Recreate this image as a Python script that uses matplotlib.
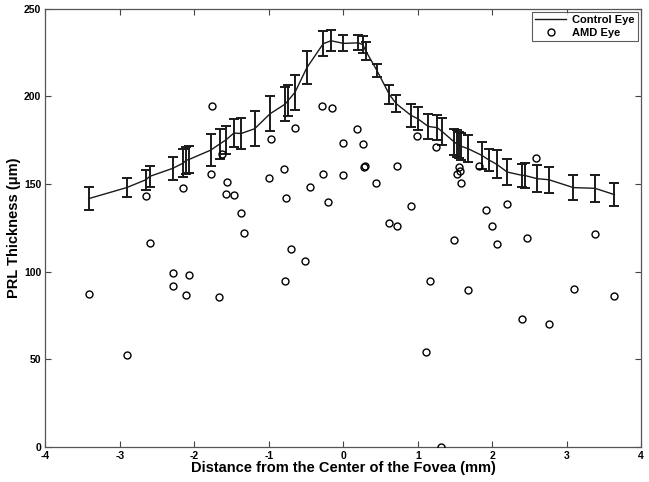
import matplotlib
matplotlib.use("Agg")
import matplotlib.pyplot as plt
import numpy as np

# Control eye: mean thickness and error at each distance
controlX = [-3.42, -2.91, -2.65, -2.60, -2.29, -2.15, -2.11, -2.07, -1.78, -1.66,
            -1.58, -1.47, -1.37, -1.19, -0.985, -0.78, -0.74, -0.65, -0.49, -0.27,
            -0.165, 0.0, 0.20, 0.26, 0.30, 0.45, 0.62, 0.71, 0.91, 1.00,
            1.14, 1.26, 1.33, 1.49, 1.52, 1.55, 1.58, 1.67, 1.86, 1.95,
            2.06, 2.20, 2.40, 2.44, 2.60, 2.76, 3.09, 3.38, 3.64]
controlMean = [141.6, 147.9, 152.4, 154.3, 158.9, 161.9, 163.5, 164.0, 169.3, 172.8,
               175.0, 179.0, 178.8, 181.5, 190.0, 195.6, 197.7, 202.2, 216.3, 230.0,
               231.7, 230.2, 230.5, 229.5, 226.0, 214.8, 200.9, 195.8, 189.1, 187.2,
               182.8, 182.1, 179.8, 173.9, 173.0, 172.3, 171.5, 170.2, 166.3, 163.8,
               161.2, 156.8, 154.9, 154.8, 153.0, 152.4, 147.9, 147.5, 143.9]
controlErr = [6.5, 5.2, 5.7, 6.0, 6.5, 8.0, 7.6, 7.6, 9.3, 8.3,
              8.2, 7.9, 8.7, 10.0, 10.0, 9.8, 8.9, 10.0, 9.4, 7.1,
              5.9, 4.6, 4.3, 5.0, 5.0, 3.8, 5.4, 4.8, 6.7, 6.7,
              7.0, 7.1, 7.6, 7.6, 7.6, 7.6, 7.6, 7.8, 7.6, 6.4,
              8.1, 7.6, 6.7, 6.9, 7.6, 7.3, 7.1, 7.8, 6.4]

# AMD eye: individual PRL measurements
amdX = [-3.41, -2.91, -2.65, -2.60, -2.29, -2.29, -2.15, -2.11, -2.07, -1.77,
        -1.78, -1.67, -1.63, -1.56, -1.58, -1.47, -1.37, -1.33, -1.00, -0.976,
        -0.79, -0.77, -0.78, -0.70, -0.65, -0.52, -0.45, -0.29, -0.27, -0.20,
        -0.148, 0.0, 0.0, 0.19, 0.26, 0.28, 0.29, 0.44, 0.61, 0.72,
        0.72, 0.91, 0.99, 1.11, 1.16, 1.25, 1.31, 1.48, 1.52, 1.55,
        1.57, 1.58, 1.68, 1.82, 1.92, 2.00, 2.06, 2.20, 2.40, 2.46,
        2.59, 2.76, 3.10, 3.38, 3.63]
amdY = [87.4, 52.3, 143.1, 116.3, 98.9, 91.6, 147.7, 86.5, 97.9, 194.4,
        155.5, 85.5, 166.9, 151.1, 144.5, 143.5, 133.6, 122.2, 153.4, 175.8,
        158.3, 142.0, 94.5, 112.8, 182.1, 105.9, 148.2, 194.4, 155.5, 139.7,
        193.5, 173.5, 155.1, 181.1, 173.0, 159.6, 160.2, 150.7, 127.7, 126.2,
        160.2, 137.2, 177.3, 54.0, 94.5, 170.9, 0.0, 117.8, 155.5, 159.6,
        157.4, 150.7, 89.3, 160.2, 135.0, 126.0, 116.0, 138.8, 73.2, 119.2,
        165.0, 70.3, 90.3, 121.5, 86.1]

xTicks = [-4, -3, -2, -1, 0, 1, 2, 3, 4]
yTicks = [0, 50, 100, 150, 200, 250]

plt.rcParams["font.family"] = ["Liberation Sans", "DejaVu Sans"]
plt.rcParams["font.weight"] = "bold"
plt.rcParams["axes.unicode_minus"] = False

fig = plt.figure(figsize=(6.49, 4.82), dpi=100)
ax = fig.add_axes([0.070, 0.073, 0.918, 0.909])

lineColor = "#1a1a1a"
# mean line (legend entry) and the error bars drawn separately
ax.plot(controlX, controlMean, color=lineColor, lw=1.0, label="Control Eye", zorder=3)
ax.errorbar(controlX, controlMean, yerr=controlErr, fmt="none", ecolor=lineColor,
            elinewidth=1.4, capsize=3.6, capthick=1.4, zorder=3)
ax.plot(amdX, amdY, "o", mfc="none", mec="black", ms=5, mew=1.0,
        label="AMD Eye", zorder=4)

ax.set_xlim(-4, 4)
ax.set_ylim(0, 250)
ax.set_xticks(xTicks)
ax.set_yticks(yTicks)
ax.tick_params(direction="in", top=True, right=True, length=4, width=0.8,
               labelsize=7.5, colors="#444444", labelcolor="black", pad=3)
for s in ax.spines.values():
    s.set_color("#555555")
    s.set_linewidth(0.9)

ax.set_xlabel("Distance from the Center of the Fovea (mm)", fontsize=10.5,
              fontweight="bold", labelpad=0)
ax.set_ylabel("PRL Thickness (\u03bcm)", fontsize=10.5, fontweight="bold", labelpad=2)

leg = ax.legend(loc="upper right", fontsize=8, frameon=True, fancybox=False,
                borderaxespad=0.3, handlelength=2.8, borderpad=0.3,
                labelspacing=0.2, handletextpad=0.5)
leg.get_frame().set_edgecolor("#333333")
leg.get_frame().set_linewidth(0.8)

fig.savefig("out.png", dpi=100)
